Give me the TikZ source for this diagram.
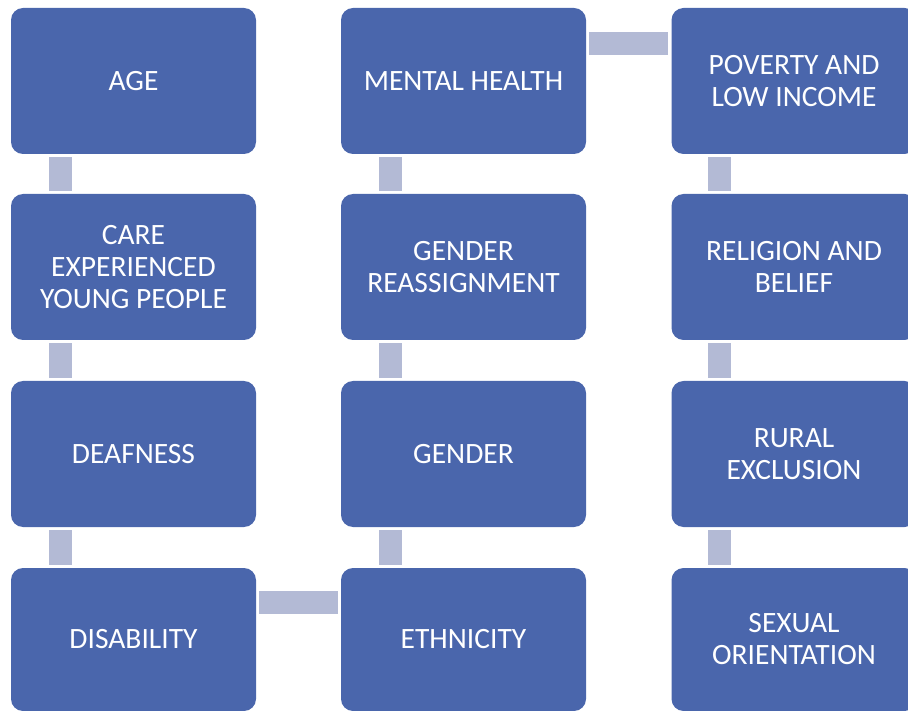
\documentclass[tikz,border=0pt]{standalone}
\usepackage{fontspec}
\setmainfont{Carlito}
\usetikzlibrary{positioning}
\definecolor{boxblue}{HTML}{4A66AC}
\definecolor{connblue}{HTML}{B3BAD5}
\begin{document}
\begin{tikzpicture}[x=1pt,y=-1pt,
  box/.style={draw=none, fill=boxblue, rounded corners=12pt, minimum width=245pt, minimum height=146pt,
    text=white, align=center, font=\fontsize{29.5}{32}\selectfont, inner sep=0pt},
  conn/.style={draw=connblue, line width=23pt, shorten <=3pt, shorten >=3pt}]
\useasboundingbox (0,0) rectangle (908,711);
\clip (0,0) rectangle (908,711);
% column 1
\node[box] (age) at (133.5,81) {AGE};
\node[box] (care) at (133.5,267) {CARE\\EXPERIENCED\\YOUNG PEOPLE};
\node[box] (deaf) at (133.5,454) {DEAFNESS};
\node[box, minimum height=143pt] (disab) at (133.5,639.5) {DISABILITY};
% column 2
\node[box] (mental) at (463.5,81) {MENTAL HEALTH};
\node[box] (reassign) at (463.5,267) {GENDER\\REASSIGNMENT};
\node[box] (gender) at (463.5,454) {GENDER};
\node[box, minimum height=143pt] (ethn) at (463.5,639.5) {ETHNICITY};
% column 3
\node[box] (poverty) at (794,81) {POVERTY AND\\LOW INCOME};
\node[box] (relig) at (794,267) {RELIGION AND\\BELIEF};
\node[box] (rural) at (794,454) {RURAL\\EXCLUSION};
\node[box, minimum height=143pt] (sexual) at (794,639.5) {SEXUAL\\ORIENTATION};
% connectors
\draw[conn] ([xshift=49.5pt]age.south west) -- ([xshift=49.5pt]care.north west);
\draw[conn] ([xshift=49.5pt]care.south west) -- ([xshift=49.5pt]deaf.north west);
\draw[conn] ([xshift=49.5pt]deaf.south west) -- ([xshift=49.5pt]disab.north west);
\draw[conn] ([yshift=-35pt]disab.north east) -- ([yshift=-35pt]ethn.north west);
\draw[conn] ([xshift=49.5pt]ethn.north west) -- ([xshift=49.5pt]gender.south west);
\draw[conn] ([xshift=49.5pt]gender.north west) -- ([xshift=49.5pt]reassign.south west);
\draw[conn] ([xshift=49.5pt]reassign.north west) -- ([xshift=49.5pt]mental.south west);
\draw[conn] ([yshift=-35.5pt]mental.north east) -- ([yshift=-35.5pt]poverty.north west);
\draw[conn] ([xshift=48.5pt]poverty.south west) -- ([xshift=48.5pt]relig.north west);
\draw[conn] ([xshift=48.5pt]relig.south west) -- ([xshift=48.5pt]rural.north west);
\draw[conn] ([xshift=48.5pt]rural.south west) -- ([xshift=48.5pt]sexual.north west);
\end{tikzpicture}
\end{document}
